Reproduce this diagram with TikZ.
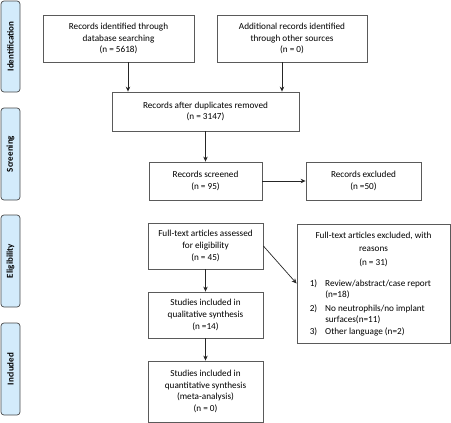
\documentclass[tikz,border=0pt]{standalone}
\usepackage{fontspec}
\setmainfont{Carlito}
\usetikzlibrary{arrows.meta,calc}
\definecolor{barfill}{HTML}{D3EBFB}
\definecolor{barline}{HTML}{4A4A4A}
\definecolor{boxline}{HTML}{5A5A5A}
\begin{document}
\begin{tikzpicture}[x=1pt,y=-1pt,
  every node/.style={font=\fontsize{9.2}{11.6}\selectfont, inner sep=0pt},
  flowbox/.style={draw=boxline, line width=0.8pt, align=center, fill=white},
  phasebar/.style={draw=barline, fill=barfill, line width=0.7pt, rounded corners=3pt, minimum width=19pt},
  phaselabel/.style={rotate=90, font=\fontsize{9}{11}\selectfont\bfseries},
  arr/.style={draw=black!85, line width=0.7pt, -{Stealth[length=5pt,width=4.5pt]}}]
\useasboundingbox (0,0) rectangle (451,423);
% phase bars
\node[phasebar, minimum height=91pt] (pid) at (10.5,46.5) {};
\node[phaselabel] (lid) at (pid.center) {Identification};
\node[phasebar, minimum height=92pt] (psc) at (10.5,154) {};
\node[phaselabel] (lsc) at (psc.center) {Screening};
\node[phasebar, minimum height=92pt] (pel) at (10.5,261) {};
\node[phaselabel] (lel) at (pel.center) {Eligibility};
\node[phasebar, minimum height=92pt] (pin) at (10.5,369) {};
\node[phaselabel] (lin) at (pin.center) {Included};
% boxes
\node[flowbox, minimum width=151pt, minimum height=47pt] (b1) at (118.5,38.5) {Records identified through\\database searching\\(n = 5618)};
\node[flowbox, minimum width=150pt, minimum height=47pt] (b2) at (292,38.5) {Additional records identified\\through other sources\\(n = 0)};
\node[flowbox, minimum width=187pt, minimum height=39pt] (b3) at (205.5,111.5) {Records after duplicates removed\\(n = 3147)};
\node[flowbox, minimum width=113pt, minimum height=38pt] (b4) at (205.5,181) {Records screened\\(n = 95)};
\node[flowbox, minimum width=115pt, minimum height=38pt] (b5) at (363.5,181) {Records excluded\\(n =50)};
\node[flowbox, minimum width=115pt, minimum height=46pt] (b6) at (205.5,246) {Full-text articles assessed\\for eligibility\\(n = 45)};
\node[flowbox, minimum width=153pt, minimum height=119pt] (b7) at (373.5,283.5) {};
\node[align=center, anchor=north, font=\fontsize{9.2}{13.8}\selectfont] (b7h) at ($(b7.north)+(0,8)$) {Full-text articles excluded, with\\reasons\\(n = 31)};
\node[align=left, anchor=north west] (b7l) at ($(b7.north west)+(13,55)$) {%
\renewcommand{\arraystretch}{0.97}%
\begin{tabular}{@{}l@{\hspace{8pt}}l@{}}
1) & Review/abstract/case report\\
   & (n=18)\\[2.5pt]
2) & No neutrophils/no implant\\
   & surfaces(n=11)\\[0.5pt]
3) & Other language (n=2)
\end{tabular}};
\node[flowbox, minimum width=115pt, minimum height=46pt] (b8) at (205.5,315) {Studies included in\\qualitative synthesis\\(n =14)};
\node[flowbox, minimum width=115pt, minimum height=61pt] (b9) at (205.5,391.5) {Studies included in\\quantitative synthesis\\(meta-analysis)\\(n = 0)};
% connectors
\coordinate (a1) at ($(b1.south)+(9.5,0)$);
\coordinate (a2) at ($(b2.south)+(-10,0)$);
\draw[arr] (a1) -- (a1 |- b3.north);
\draw[arr] (a2) -- (a2 |- b3.north);
\draw[arr] (b3) -- (b4);
\draw[arr] (b4) -- (b5);
\draw[arr] (b6.east) -- (b7.west);
\draw[arr] (b6) -- (b8);
\draw[arr] (b8) -- (b9);
\end{tikzpicture}
\end{document}
